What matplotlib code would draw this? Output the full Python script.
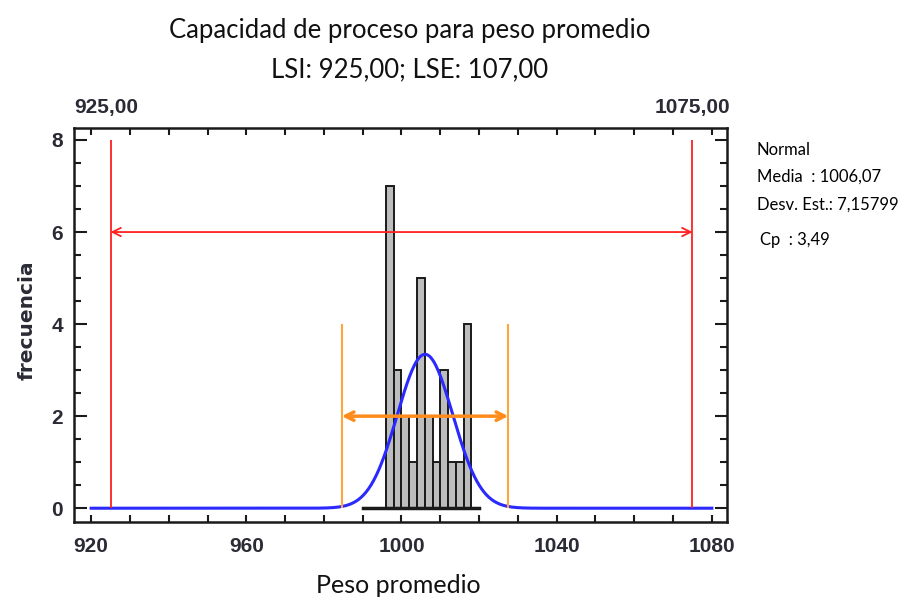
import numpy as np
import matplotlib.pyplot as plt

# datos del histograma (peso promedio)
bin_left = [996, 998, 1000, 1002, 1004, 1006, 1008, 1010, 1012, 1014, 1016]
counts = [7, 3, 2, 1, 5, 2, 1, 3, 1, 1, 4]
bin_width = 2
n = 30

media = 1006.07
desv = 7.15799
cp = 3.49
LSI = 925
LSE = 1075

x_ticks = [920, 960, 1000, 1040, 1080]
y_ticks = [0, 2, 4, 6, 8]

tick_font = dict(family='Liberation Sans', weight='bold', size=15, color='#2b2b36')
text_font = 'Lato'

fig = plt.figure(figsize=(9.03, 6.01), dpi=100)
ax = fig.add_axes([0.082, 0.1314, 0.7231, 0.6556])

# histograma
ax.bar(bin_left, counts, width=bin_width, align='edge', color='#bdbdbd',
       edgecolor='#1a1a1a', linewidth=1.4, zorder=2)
ax.plot([990, 1020], [0, 0], color='#1a1a1a', linewidth=2.5, zorder=3)

# curva normal ajustada
xs = np.linspace(920, 1080, 500)
ys = n * bin_width * np.exp(-0.5 * ((xs - media) / desv) ** 2) / (desv * np.sqrt(2 * np.pi))
ax.plot(xs, ys, color='#2a2aff', linewidth=2.2, zorder=4)

# limites de especificacion
ax.vlines([LSI, LSE], 0, 8, color='#ff2020', linewidth=1.3, zorder=5)
ax.annotate('', xy=(LSI, 6), xytext=(LSE, 6),
            arrowprops=dict(arrowstyle='<->,head_length=0.6,head_width=0.3',
                            color='#ff2020', linewidth=1.3, shrinkA=0, shrinkB=0),
            zorder=5)

# limites naturales (media +/- 3 sigma)
lo = media - 3 * desv
hi = media + 3 * desv
ax.vlines([lo, hi], 0, 4, color='#ffa53a', linewidth=1.5, zorder=5)
ax.annotate('', xy=(lo, 2), xytext=(hi, 2),
            arrowprops=dict(arrowstyle='<->,head_length=0.6,head_width=0.3',
                            color='#ff8c1a', linewidth=2.5, shrinkA=0, shrinkB=0),
            zorder=6)

ax.set_xlim(915.6, 1083.9)
ax.set_ylim(-0.3, 8.26)

ax.set_xticks(x_ticks)
ax.set_xticks(np.arange(920, 1081, 10), minor=True)
ax.set_yticks(y_ticks)
ax.set_yticks(np.arange(0, 8.01, 0.5), minor=True)
ax.set_xticklabels([str(v) for v in x_ticks], fontdict=tick_font)
ax.set_yticklabels([str(v) for v in y_ticks], fontdict=tick_font)

ax.tick_params(axis='both', which='both', direction='in', top=True, right=True,
               color='#1a1a1a', width=1.5)
ax.tick_params(axis='x', which='both', length=5, pad=11)
ax.tick_params(axis='y', which='major', length=9, pad=8)
ax.tick_params(axis='y', which='minor', length=5)
for s in ax.spines.values():
    s.set_linewidth(1.8)
    s.set_color('#1a1a1a')

# etiquetas de LSI y LSE arriba
trans = ax.get_xaxis_transform()
ax.text(LSI - 1, 1.052, '925,00', transform=trans, ha='center', va='center', **tick_font)
ax.text(LSE, 1.052, '1075,00', transform=trans, ha='center', va='center', **tick_font)

# titulos
fig.text(0.454, 0.950, 'Capacidad de proceso para peso promedio', ha='center', va='center',
         family=text_font, size=18.5, color='#111111')
fig.text(0.454, 0.8835, 'LSI: 925,00; LSE: 107,00', ha='center', va='center',
         family=text_font, size=18.5, color='#111111')
fig.text(0.4408, 0.0266, 'Peso promedio', ha='center', va='center',
         family=text_font, size=18, color='#111111')
fig.text(0.030, 0.4676, 'frecuencia', rotation=90, ha='center', va='center',
         family='DejaVu Sans', weight='bold', size=14.5, color='#2b2b36')

# cuadro de estadisticos
fig.text(0.838, 0.7504, 'Normal', ha='left', va='center', family=text_font, size=12)
fig.text(0.838, 0.7055, 'Media  : 1006,07', ha='left', va='center', family=text_font, size=12)
fig.text(0.838, 0.6589, 'Desv. Est.: 7,15799', ha='left', va='center', family=text_font, size=12)
fig.text(0.842, 0.6007, 'Cp  : 3,49', ha='left', va='center', family=text_font, size=12)

fig.savefig('out.png', dpi=100)
